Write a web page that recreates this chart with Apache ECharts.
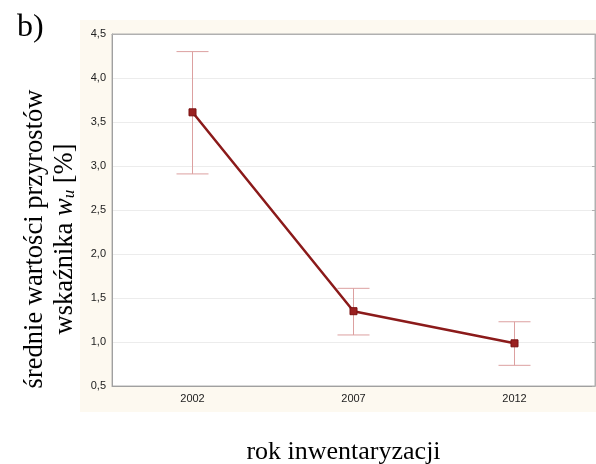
<!DOCTYPE html>
<html>
<head>
<meta charset="utf-8">
<script src="https://cdn.jsdelivr.net/npm/echarts@6/dist/echarts.min.js"></script>
<style>html,body{margin:0;padding:0;background:#fff;}#c{width:596px;height:464px;}</style>
</head>
<body>
<div id="c"></div>
<script>
var years = ['2002', '2007', '2012'];
var means = [3.61, 1.35, 0.985];
var upper = [4.30, 1.61, 1.23];
var lower = [2.91, 1.08, 0.735];
var yTicks = [0.5, 1.0, 1.5, 2.0, 2.5, 3.0, 3.5, 4.0, 4.5];

var chart = echarts.init(document.getElementById('c'));
var errData = years.map(function (y, i) { return [i, lower[i], upper[i]]; });
var fmt = function (v) { return v.toFixed(1).replace('.', ','); };

chart.setOption({
  animation: false,
  backgroundColor: '#ffffff',
  graphic: [
    { type: 'rect', z: -10, shape: { x: 80, y: 20, width: 516, height: 392 }, style: { fill: '#fdf9f0' } },
    { type: 'text', left: 17, top: 12, style: { text: 'b)', font: '32px "Liberation Serif"', fill: '#000' } },
    {
      type: 'text', x: 50, y: 239, rotation: Math.PI / 2,
      style: {
        text: '{t|średnie wartości przyrostów}\n{t|wskaźnika }{i|w}{s|u}{t| [%]}',
        align: 'center', verticalAlign: 'middle',
        font: '26px "Liberation Serif"', fill: '#000', lineHeight: 30,
        rich: {
          t: { fontFamily: 'Liberation Serif', fontSize: 26.5, fill: '#000', lineHeight: 30 },
          i: { fontFamily: 'Liberation Serif', fontSize: 26.5, fontStyle: 'italic', fill: '#000', lineHeight: 30 },
          s: { fontFamily: 'Liberation Serif', fontSize: 17, fontStyle: 'italic', fill: '#000', lineHeight: 30, padding: [10, 0, 0, 0] }
        }
      }
    }
  ],
  grid: { left: 112, right: 1, top: 34, bottom: 78, containLabel: false, outerBoundsMode: 'none', show: true, backgroundColor: '#ffffff', borderColor: '#b0b0b0', borderWidth: 1 },
  xAxis: [{
    type: 'category', data: years, boundaryGap: true,
    axisLine: { lineStyle: { color: '#a0a0a0' } },
    axisTick: { inside: true, alignWithLabel: true, length: 3, lineStyle: { color: '#a0a0a0' } },
    axisLabel: { color: '#222', fontFamily: 'Liberation Sans', fontSize: 11, margin: 7 },
    name: 'rok inwentaryzacji', nameLocation: 'middle', nameGap: 53,
    nameTextStyle: { fontFamily: 'Liberation Serif', fontSize: 26, color: '#000', padding: [0, 20, 0, 0] }
  }, {
    type: 'category', data: years, position: 'top', boundaryGap: true,
    axisLine: { lineStyle: { color: '#b0b0b0' } },
    axisTick: { inside: true, alignWithLabel: true, length: 3, lineStyle: { color: '#b0b0b0' } },
    axisLabel: { show: false }
  }],
  yAxis: [{
    type: 'value', min: 0.5, max: 4.5, interval: 0.5,
    axisLine: { show: true, lineStyle: { color: '#a0a0a0' } },
    axisTick: { show: false },
    splitLine: { lineStyle: { color: '#ececec' } },
    axisLabel: { color: '#222', fontFamily: 'Liberation Sans', fontSize: 11, margin: 6, formatter: fmt }
  }, {
    type: 'value', min: 0.5, max: 4.5, interval: 0.5, position: 'right',
    axisLine: { show: true, lineStyle: { color: '#b0b0b0' } },
    axisTick: { show: true, inside: true, length: 3, lineStyle: { color: '#b0b0b0' } },
    splitLine: { show: false }, axisLabel: { show: false }
  }],
  series: [{
    type: 'custom',
    data: errData,
    z: 1,
    renderItem: function (params, api) {
      var x = api.value(0);
      var lo = api.coord([x, api.value(1)]);
      var hi = api.coord([x, api.value(2)]);
      var hw = 16;
      var st = { stroke: '#dca0a0', lineWidth: 1 };
      return {
        type: 'group',
        children: [
          { type: 'line', shape: { x1: hi[0], y1: hi[1], x2: lo[0], y2: lo[1] }, style: st },
          { type: 'line', shape: { x1: hi[0] - hw, y1: hi[1], x2: hi[0] + hw, y2: hi[1] }, style: st },
          { type: 'line', shape: { x1: lo[0] - hw, y1: lo[1], x2: lo[0] + hw, y2: lo[1] }, style: st }
        ]
      };
    }
  }, {
    type: 'line',
    data: means,
    z: 3,
    symbol: 'rect', symbolSize: 7,
    lineStyle: { color: '#8b1a1a', width: 2.5 },
    itemStyle: { color: '#9a2020', borderColor: '#7a1010', borderWidth: 1 }
  }]
});
</script>
</body>
</html>
